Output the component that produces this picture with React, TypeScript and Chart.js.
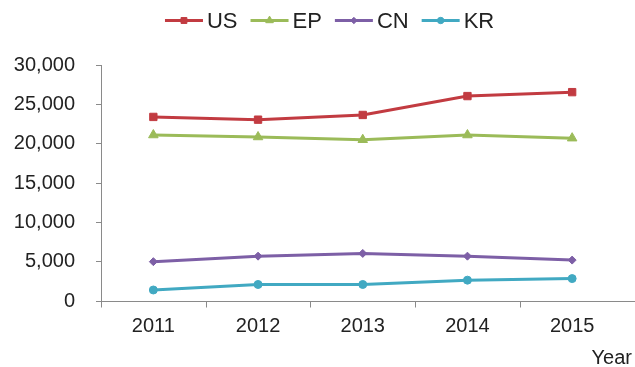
import React, { useEffect, useRef } from "react";
import { Chart, registerables } from "chart.js";

Chart.register(...registerables);

const years = ["2011", "2012", "2013", "2014", "2015"];
const usValues = [23400, 23050, 23650, 26050, 26550];
const epValues = [21100, 20850, 20500, 21100, 20700];
const cnValues = [5000, 5700, 6050, 5700, 5200];
const krValues = [1400, 2100, 2100, 2650, 2850];
const yTicks = [0, 5000, 10000, 15000, 20000, 25000, 30000];
const xAxisTitle = "Year";

const FONT = "'Liberation Sans', Arial, sans-serif";
const AXIS_GRAY = "#8a8a8a";
const TEXT = "#222222";

type Marker = "rect" | "triangle" | "rectRot" | "circle";

type Series = {
  label: string;
  values: number[];
  color: string;
  pointStyle: Marker;
  radius: number;
};

const series: Series[] = [
  { label: "US", values: usValues, color: "#C23B41", pointStyle: "rect", radius: 5.2 },
  { label: "EP", values: epValues, color: "#9BBB59", pointStyle: "triangle", radius: 5.5 },
  { label: "CN", values: cnValues, color: "#7D5FA6", pointStyle: "rectRot", radius: 4 },
  { label: "KR", values: krValues, color: "#41A9C2", pointStyle: "circle", radius: 4 },
];

// Small marker used inside the legend entries.
function drawMarker(ctx: CanvasRenderingContext2D, style: Marker, x: number, y: number, r: number) {
  ctx.beginPath();
  if (style === "rect") {
    const s = r * Math.SQRT1_2;
    ctx.rect(x - s, y - s, 2 * s, 2 * s);
  } else if (style === "triangle") {
    ctx.moveTo(x, y - r);
    ctx.lineTo(x + r * 0.866, y + r * 0.5);
    ctx.lineTo(x - r * 0.866, y + r * 0.5);
    ctx.closePath();
  } else if (style === "rectRot") {
    ctx.moveTo(x, y - r);
    ctx.lineTo(x + r, y);
    ctx.lineTo(x, y + r);
    ctx.lineTo(x - r, y);
    ctx.closePath();
  } else {
    ctx.arc(x, y, r, 0, Math.PI * 2);
  }
  ctx.fill();
  ctx.stroke();
}

// Legend drawn across the top: a short line with the series marker, then the name.
const topLegend = {
  id: "topLegend",
  afterDraw(chart: any) {
    const ctx = chart.ctx as CanvasRenderingContext2D;
    const lineW = 38;
    const textGap = 4;
    const itemGap = 13;
    const cy = 20.5;
    ctx.save();
    ctx.font = `22px ${FONT}`;
    const widths = series.map((s) => ctx.measureText(s.label).width);
    const total =
      widths.reduce((a, w) => a + lineW + textGap + w, 0) + itemGap * (widths.length - 1);
    let x = 329.6 - total / 2;
    series.forEach((s, i) => {
      ctx.strokeStyle = s.color;
      ctx.lineWidth = 3;
      ctx.beginPath();
      ctx.moveTo(x, cy);
      ctx.lineTo(x + lineW, cy);
      ctx.stroke();
      ctx.fillStyle = s.color;
      ctx.lineWidth = 1;
      drawMarker(ctx, s.pointStyle, x + lineW / 2, cy, s.radius * 0.8);
      ctx.fillStyle = TEXT;
      ctx.textAlign = "left";
      ctx.textBaseline = "middle";
      ctx.fillText(s.label, x + lineW + textGap, cy + 1);
      x += lineW + textGap + widths[i] + itemGap;
    });
    ctx.restore();
  },
};

// Category-axis details: tick marks between the years (and under the origin),
// the axis line running on to the right edge, and the axis name under its end.
const axisExtras = {
  id: "axisExtras",
  afterDraw(chart: any) {
    const ctx = chart.ctx as CanvasRenderingContext2D;
    const area = chart.chartArea;
    const xScale = chart.scales.x;
    const yb = Math.round(area.bottom) + 0.5;
    ctx.save();
    ctx.strokeStyle = AXIS_GRAY;
    ctx.lineWidth = 1;
    ctx.beginPath();
    ctx.moveTo(area.left, yb);
    ctx.lineTo(chart.width, yb);
    const bounds: number[] = [area.left];
    for (let i = 1; i < years.length; i++) {
      bounds.push((xScale.getPixelForTick(i - 1) + xScale.getPixelForTick(i)) / 2);
    }
    bounds.forEach((bx) => {
      const px = Math.round(bx) + 0.5;
      ctx.moveTo(px, yb);
      ctx.lineTo(px, yb + 6);
    });
    ctx.stroke();
    ctx.font = `20px ${FONT}`;
    ctx.fillStyle = TEXT;
    ctx.textAlign = "right";
    ctx.textBaseline = "alphabetic";
    ctx.fillText(xAxisTitle, 632, 364);
    ctx.restore();
  },
};

export default function App() {
  const canvasRef = useRef<HTMLCanvasElement | null>(null);

  useEffect(() => {
    const canvas = canvasRef.current;
    if (!canvas) return;
    const chart = new Chart(canvas, {
      type: "line",
      data: {
        labels: years,
        datasets: series.map((s) => ({
          label: s.label,
          data: s.values,
          borderColor: s.color,
          backgroundColor: s.color,
          borderWidth: 3,
          pointStyle: s.pointStyle,
          pointRadius: s.radius,
          pointBorderWidth: 1,
          pointHoverRadius: s.radius,
          tension: 0,
          fill: false,
        })),
      },
      options: {
        animation: false,
        responsive: false,
        maintainAspectRatio: false,
        devicePixelRatio: 1,
        layout: { padding: { top: 65, right: 10.5, bottom: 0, left: 0 } },
        plugins: {
          legend: { display: false },
          tooltip: { enabled: false },
          title: { display: false },
        },
        scales: {
          x: {
            type: "category",
            offset: true,
            grid: { display: false },
            border: { display: false },
            ticks: {
              color: TEXT,
              font: { family: FONT, size: 20 },
              padding: 5,
              maxRotation: 0,
              autoSkip: false,
            },
            afterFit(scale: any) {
              scale.height = 66;
            },
          },
          y: {
            type: "linear",
            min: 0,
            max: 30000,
            afterBuildTicks(scale: any) {
              scale.ticks = yTicks.map((v) => ({ value: v }));
            },
            grid: {
              drawOnChartArea: false,
              drawTicks: true,
              tickLength: 5,
              color: AXIS_GRAY,
            },
            border: { display: true, color: AXIS_GRAY, width: 1 },
            ticks: {
              color: TEXT,
              font: { family: FONT, size: 20 },
              padding: 21,
              callback: (v: any) => Number(v).toLocaleString("en-US"),
            },
            afterFit(scale: any) {
              scale.width = 101;
            },
          },
        },
      },
      plugins: [topLegend, axisExtras],
    });
    return () => chart.destroy();
  }, []);

  return (
    <div style={{ position: "fixed", left: 0, top: 0, width: 635, height: 367, background: "#ffffff" }}>
      <canvas ref={canvasRef} width={635} height={367} style={{ width: 635, height: 367, display: "block" }} />
    </div>
  );
}
